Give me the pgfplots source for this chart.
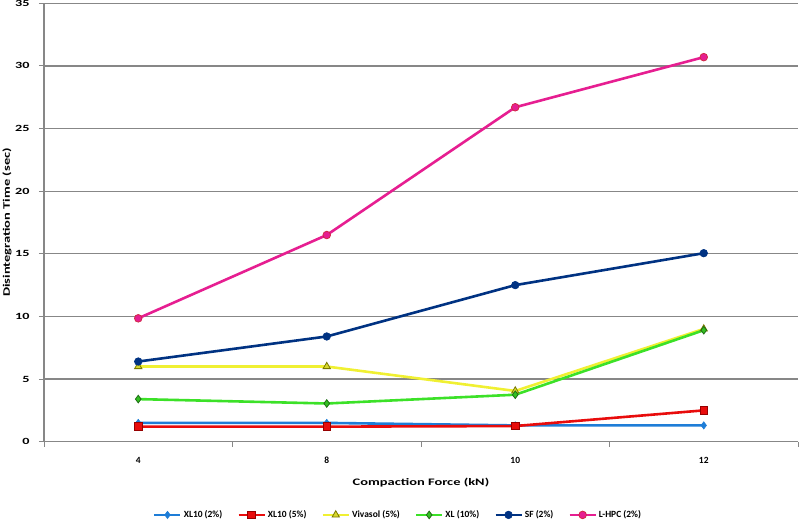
\documentclass[border=0pt]{standalone}
\usepackage{fontspec}
\setmainfont{Carlito}
\newfontfamily\widefont{Carlito}[FakeStretch=1.45]
\newfontfamily\wideyfont{Carlito}[FakeStretch=1.5]
\usepackage{pgfplots}
\pgfplotsset{compat=1.18}
\definecolor{cBlue}{RGB}{30,125,215}
\definecolor{cRed}{RGB}{232,12,12}
\definecolor{cRedD}{RGB}{150,0,0}
\definecolor{cYel}{RGB}{240,240,50}
\definecolor{cYelD}{RGB}{120,120,0}
\definecolor{cGrn}{RGB}{60,225,40}
\definecolor{cGrnD}{RGB}{30,110,20}
\definecolor{cNavy}{RGB}{0,50,130}
\definecolor{cMag}{RGB}{230,30,145}
\definecolor{cMagD}{RGB}{210,40,70}
\definecolor{cGrid}{RGB}{135,135,135}
\begin{document}
\begin{tikzpicture}[x=1bp,y=1bp]
\useasboundingbox (0,0) rectangle (799,520);
\begin{axis}[
  at={(44bp,78.3bp)}, anchor=south west,
  scale only axis, width=754bp, height=438.4bp,
  font=\bfseries\fontsize{9.5}{11}\selectfont,
  /pgf/number format/assume math mode=true,
  xmin=-0.5, xmax=3.5, ymin=0, ymax=35,
  ytick={0,5,...,35},
  xtick={-0.5,0.5,1.5,2.5,3.5}, xticklabels={},
  extra x ticks={0,1,2,3}, extra x tick labels={4,8,10,12},
  extra x tick style={major tick length=0pt, xticklabel style={yshift=-12bp}},
  axis x line*=bottom, axis y line*=left,
  axis line style={cGrid, line width=1.2bp},
  tick align=outside, major tick length=5bp,
  tick style={cGrid, line width=1bp},
  ymajorgrids, grid style={cGrid, line width=1.2bp},
  yticklabel style={xshift=-6bp, font=\wideyfont\bfseries\fontsize{9.5}{11}\selectfont},
  xlabel={Compaction Force (kN)},
  ylabel={Disintegration Time (sec)},
  xlabel style={at={(axis description cs:0.5,-0.093)}, anchor=center, font=\widefont\bfseries\fontsize{10}{12}\selectfont},
  ylabel style={at={(axis description cs:-0.049,0.5)}, anchor=center, font=\widefont\bfseries\fontsize{10}{12}\selectfont},
  legend columns=6,
  legend style={draw=none, at={(axis description cs:0.1406,-0.167)}, anchor=west,
    font=\bfseries\fontsize{9.5}{11}\selectfont,
    /tikz/every even column/.append style={column sep=13bp}},
  legend image code/.code={\draw[mark repeat=2,mark phase=2] plot coordinates {(0bp,0bp)(13bp,0bp)(26bp,0bp)};},
  every axis plot/.append style={line width=2.6bp},
]
\addplot[cBlue, mark=diamond*, mark size=3.6bp, mark options={fill=cBlue, draw=cBlue, line width=0.6bp}]
  coordinates {(0,1.5) (1,1.5) (2,1.3) (3,1.3)};
\addlegendentry{XL10 (2\%)}
\addplot[cRed, mark=square*, mark size=3.8bp, mark options={fill=cRed, draw=cRedD, line width=0.8bp}]
  coordinates {(0,1.2) (1,1.2) (2,1.25) (3,2.5)};
\addlegendentry{XL10 (5\%)}
\addplot[cYel, mark=triangle*, mark size=4.2bp, mark options={fill=cYel!90!black, draw=cYelD, line width=0.8bp}]
  coordinates {(0,6.0) (1,6.0) (2,4.05) (3,9.0)};
\addlegendentry{Vivasol (5\%)}
\addplot[cGrn, mark=diamond*, mark size=3.8bp, mark options={fill=cGrn!85!black, draw=cGrnD, line width=0.8bp}]
  coordinates {(0,3.4) (1,3.05) (2,3.75) (3,8.9)};
\addlegendentry{XL (10\%)}
\addplot[cNavy, mark=*, mark size=3.8bp, mark options={fill=cNavy, draw=cNavy, line width=0.6bp}]
  coordinates {(0,6.4) (1,8.4) (2,12.5) (3,15.05)};
\addlegendentry{SF (2\%)}
\addplot[cMag, mark=*, mark size=3.8bp, mark options={fill=cMag, draw=cMagD, line width=0.8bp}]
  coordinates {(0,9.85) (1,16.5) (2,26.7) (3,30.7)};
\addlegendentry{L-HPC (2\%)}
\end{axis}
\end{tikzpicture}
\end{document}
